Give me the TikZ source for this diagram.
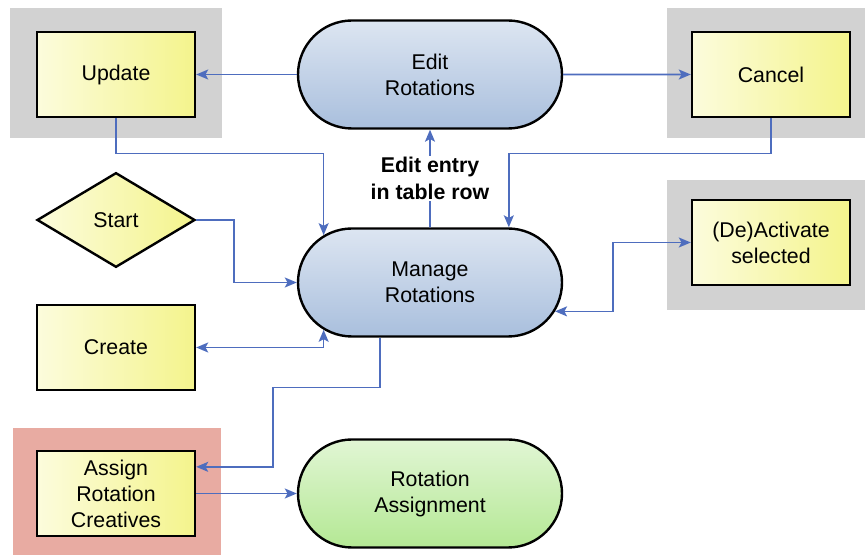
\documentclass[tikz,border=0pt]{standalone}
\usepackage{fontspec}
\setmainfont{Liberation Sans}
\usetikzlibrary{shapes.geometric,shapes.misc,arrows.meta}
\definecolor{boxyellow}{HTML}{F4F48C}
\definecolor{stadblue}{HTML}{A9BFDD}
\definecolor{stadgreen}{HTML}{B4E894}
\definecolor{linkblue}{HTML}{4E6DBE}
\definecolor{backgray}{HTML}{D2D2D2}
\definecolor{backpink}{HTML}{E8ABA2}
\begin{document}
\begin{tikzpicture}[x=0.75pt,y=-0.75pt,>={Stealth[length=9pt,width=7.5pt,inset=2pt]},
  font=\fontsize{16}{19.5}\selectfont,
  box node/.style={draw,line width=1.8pt,rectangle,minimum width=118.5pt,minimum height=64pt,inner sep=0pt,align=center,left color=boxyellow!30!white,right color=boxyellow},
  start node/.style={box node,diamond,minimum height=71pt},
  stad node/.style={draw,line width=1.8pt,rounded rectangle,minimum width=198pt,minimum height=81pt,inner sep=0pt,align=center,top color=stadblue!40!white,bottom color=stadblue},
  link/.style={->,draw=linkblue,line width=1.2pt},
  twoway/.style={link,<->}]
\useasboundingbox (0,0) rectangle (865,555);
% backdrops
\fill[backgray] (10,8) rectangle (222,138);
\fill[backgray] (667,8) rectangle (865,138);
\fill[backgray] (667,180) rectangle (865,310);
\fill[backpink] (13,428) rectangle (221,555);

\node[box node] (upd) at (116,74.5) {Update};
\node[stad node] (edit) at (430,74.5) {Edit\\Rotations};
\node[box node] (cancel) at (771,74.5) {Cancel};
\node[start node] (start) at (116,220) {Start};
\node[stad node] (manage) at (430,282.5) {Manage\\Rotations};
\node[box node] (activ) at (771,242.5) {(De)Activate\\selected};
\node[box node] (create) at (116,347.5) {Create};
\node[box node] (assign) at (116,493.5) {Assign\\Rotation\\Creatives};
\node[stad node,top color=stadgreen!40!white,bottom color=stadgreen] (rassign) at (430,493.5) {Rotation\\Assignment};

\path (edit) edge[link] (upd)
  (edit) edge[link] (cancel)
  (assign) edge[link] (rassign)
  (manage) edge[link] node[fill=white,inner sep=1pt,align=center,font=\fontsize{16}{20}\selectfont\bfseries] {Edit entry\\in table row} (edit);
\draw[link] (upd.south) -- ++(0,35) -| (manage.156);
\draw[link] (cancel.south) -- ++(0,35) -| (manage.35);
\draw[link] (start.east) -- ++(38,0) |- (manage.west);
\draw[twoway] (create.east) -| (manage.204);
\draw[link] ([xshift=-37.5pt]manage.south) -- ++(0,50) -- ++(-107,0) |- ([yshift=20pt]assign.east);
\draw[twoway] (activ.west) -- ++(-78,0) |- (manage.-13);
\end{tikzpicture}
\end{document}
